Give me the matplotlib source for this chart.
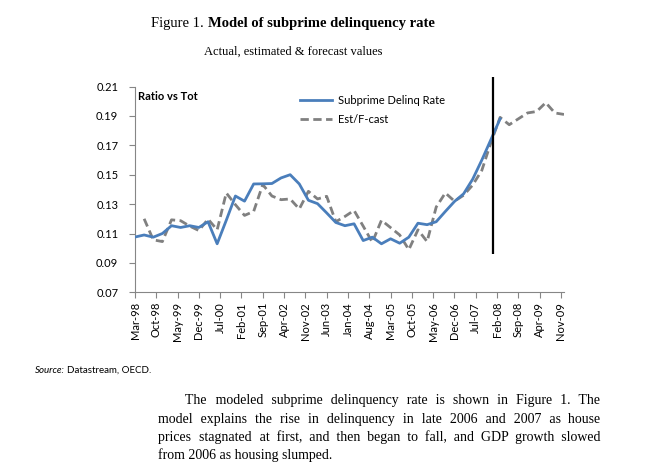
import matplotlib
matplotlib.use("Agg")
import matplotlib.pyplot as plt
import numpy as np

# ---------------- data ----------------
tick_labels = ["Mar-98", "Oct-98", "May-99", "Dec-99", "Jul-00", "Feb-01", "Sep-01",
               "Apr-02", "Nov-02", "Jun-03", "Jan-04", "Aug-04", "Mar-05", "Oct-05",
               "May-06", "Dec-06", "Jul-07", "Feb-08", "Sep-08", "Apr-09", "Nov-09"]
# quarterly observations, index 0 = Mar-98
actual_rate = [0.1076, 0.109, 0.1075, 0.110, 0.1153, 0.1141, 0.1153, 0.1141, 0.118, 0.103,
               0.119, 0.1355, 0.132, 0.1437, 0.1438, 0.144, 0.1478, 0.150, 0.1437, 0.1326,
               0.1303, 0.124, 0.1175, 0.1153, 0.1166, 0.1052, 0.1075, 0.103, 0.1064, 0.1034,
               0.1075, 0.117, 0.116, 0.118, 0.125, 0.1318, 0.137, 0.147, 0.160, 0.174, 0.188]
est_forecast = [0.120, 0.1057, 0.1045, 0.1193, 0.1187, 0.115, 0.112, 0.1198, 0.1125,
                0.1376, 0.1296, 0.1223, 0.125, 0.1433, 0.1355, 0.133, 0.1335, 0.1267,
                0.1387, 0.1335, 0.1353, 0.118, 0.1216, 0.1257, 0.115, 0.104, 0.119, 0.114,
                0.109, 0.099, 0.1125, 0.1045, 0.128, 0.1376, 0.132, 0.136, 0.143, 0.153,
                0.172, 0.189, 0.184, 0.188, 0.192, 0.193, 0.199, 0.192, 0.191]  # starts at index 1
est_start_index = 1
cutoff_index = 39  # Dec-07
y_ticks = [0.07, 0.09, 0.11, 0.13, 0.15, 0.17, 0.19, 0.21]

title_regular = "Figure 1. "
title_bold = "Model of subprime delinquency rate"
subtitle = "Actual, estimated & forecast values"
paragraph = [
    "The modeled subprime delinquency rate is shown in Figure 1. The",
    "model explains the rise in delinquency in late 2006 and 2007 as house",
    "prices stagnated at first, and then began to fall, and GDP growth slowed",
    "from 2006 as housing slumped.",
]

# ---------------- figure ----------------
W, H = 647, 469
fig = plt.figure(figsize=(W / 100, H / 100), dpi=100)
fig.patch.set_facecolor("white")

def fx(px):
    return px / W

def fy(py):
    return 1 - py / H

ax_l, ax_r, ax_t, ax_b = 135, 564, 86.5, 292.3
ax = fig.add_axes([fx(ax_l), fy(ax_b), fx(ax_r) - fx(ax_l), fy(ax_t) - fy(ax_b)])

sans = ["Lato", "DejaVu Sans"]
serif = ["Liberation Serif", "DejaVu Serif"]

m_actual = 3 * np.arange(len(actual_rate))
m_est = 3 * (np.arange(len(est_forecast)) + est_start_index)

ax.plot(m_actual, actual_rate, color="#4A7EBB", lw=2.0, label="Subprime Delinq Rate",
        solid_joinstyle="round", zorder=3)
ax.plot(m_est, est_forecast, color="#808080", lw=2.0, dashes=(3, 1.6),
        label="Est/F-cast", zorder=2)

cut_m = 3 * cutoff_index
ax.vlines(cut_m + 0.5, 0.096, 0.2167, color="black", lw=1.6, clip_on=False, zorder=4)

ax.set_xlim(0, 141)
ax.set_ylim(0.07, 0.21)
ax.set_yticks(y_ticks)
ax.set_yticklabels([f"{v:.2f}" for v in y_ticks], fontsize=8, family=sans)
ax.set_xticks(7 * np.arange(len(tick_labels)))
ax.set_xticklabels(tick_labels, rotation=90, fontsize=8, family=sans)

for side in ["top", "right"]:
    ax.spines[side].set_visible(False)
for side in ["left", "bottom"]:
    ax.spines[side].set_color("#868686")
    ax.spines[side].set_linewidth(0.8)
ax.tick_params(axis="both", direction="out", length=4, width=0.8, color="#868686",
               labelcolor="black")
ax.tick_params(axis="y", pad=8)
ax.tick_params(axis="x", pad=3)

fig.text(fx(138), fy(97), "Ratio vs Tot", fontsize=8, fontweight="bold", family=sans,
         ha="left", va="center")

leg = fig.legend(loc="upper left", bbox_to_anchor=(fx(300), fy(95)),
                 bbox_transform=fig.transFigure, frameon=False, prop={"family": sans, "size": 8},
                 handlelength=2.9, handletextpad=0.5, labelspacing=0.75, borderpad=0,
                 borderaxespad=0)

# ---------------- texts ----------------
fig.canvas.draw()
renderer = fig.canvas.get_renderer()

def width_px(t):
    return t.get_window_extent(renderer).width

# title (mixed weight), centered
t1 = fig.text(0, fy(27), title_regular, fontsize=10.5, family=serif, va="baseline", ha="left")
t2 = fig.text(0, fy(27), title_bold, fontsize=10.5, family=serif, fontweight="bold",
              va="baseline", ha="left")
w1, w2 = width_px(t1), width_px(t2)
start = 293 - (w1 + w2) / 2
t1.set_x(fx(start))
t2.set_x(fx(start + w1))

fig.text(fx(293), fy(52), subtitle, fontsize=9, family=serif, ha="center", va="center")

s1 = fig.text(fx(35), fy(373), "Source:", fontsize=7, family=sans, style="italic",
              ha="left", va="baseline")
ws = width_px(s1)
fig.text(fx(35 + ws + 2), fy(373), "Datastream, OECD.", fontsize=7, family=sans,
         ha="left", va="baseline")

PFS = 10
HAIR = "\u200a"

def measure(s):
    t = fig.text(0, 0.5, s, fontsize=PFS, family=serif)
    w = width_px(t)
    t.remove()
    return w

hair_w = measure("a" + HAIR * 20 + "a") - measure("aa")
hair_w = hair_w / 20.0

def justified_string(line, target):
    words = line.split()
    natural = measure(" ".join(words))
    extra = target - natural
    ngaps = len(words) - 1
    if ngaps <= 0 or hair_w <= 0 or extra <= 0:
        return " ".join(words)
    total_hairs = int(round(extra / hair_w))
    base, rem = divmod(total_hairs, ngaps)
    out = words[0]
    for i, w in enumerate(words[1:]):
        k = base + (1 if i < rem else 0)
        out += " " + HAIR * k + w
    return out

para_baselines = [404, 422.5, 440.5, 458.5]
for i, (line, y) in enumerate(zip(paragraph, para_baselines)):
    x0 = 185 if i == 0 else 158
    last = (i == len(paragraph) - 1)
    s = line if last else justified_string(line, 600 - x0)
    fig.text(fx(x0), fy(y), s, fontsize=PFS, family=serif, ha="left", va="baseline")

fig.savefig("out.png", dpi=100, facecolor="white")
